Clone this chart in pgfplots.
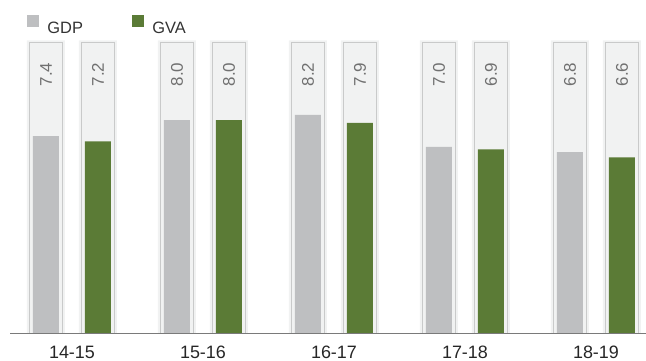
\documentclass[border=0pt]{standalone}
\usepackage{fontspec}
\setmainfont{Liberation Sans}
\usepackage{pgfplots}
\usepackage{pgfplotstable}
\pgfplotsset{compat=1.18}

\definecolor{gdpgray}{HTML}{BEBFC1}
\definecolor{gvagreen}{HTML}{5B7B36}
\definecolor{trackfill}{HTML}{F1F2F2}
\definecolor{trackline}{HTML}{C9CACA}
\definecolor{axisgray}{HTML}{7A7A7A}
\definecolor{valuegray}{HTML}{707070}

% growth rates (%) by fiscal year; halo/frame = height of the background track
\pgfplotstableread{
x year  gdp gva halo frame
0 14-15 7.4 7.2 11.0 10.93
1 15-16 8.0 8.0 11.0 10.93
2 16-17 8.2 7.9 11.0 10.93
3 17-18 7.0 6.9 11.0 10.93
4 18-19 6.8 6.6 11.0 10.93
}\growth

\begin{document}
\begin{tikzpicture}
\useasboundingbox (0,0) rectangle (646bp,361bp);
\begin{axis}[
  at={(10bp,28bp)}, anchor=south west,
  scale only axis, width=636bp, height=332.5bp,
  xmin=-0.473, xmax=4.382, ymin=0, ymax=12.5,
  axis x line=bottom, axis y line=none,
  x axis line style={-, draw=axisgray, line width=0.9bp},
  xtick={0,1,2,3,4},
  xticklabels from table={\growth}{year},
  major tick length=0pt,
  xticklabel style={anchor=base, yshift=-25.5bp, font=\fontsize{18}{20}\selectfont, text=black!85},
  ytick=\empty,
  ybar, bar shift=0pt,
  axis on top,
  clip=false,
  /pgf/number format/assume math mode=true,
  legend style={at={(rel axis cs:0.0267,0.9564)}, anchor=north west,
    draw=none, fill=none, inner sep=0pt, outer sep=0pt,
    font=\fontsize{16.5}{18}\selectfont, text=black!80,
    /tikz/every odd column/.append style={column sep=9bp},
    /tikz/every even column/.append style={column sep=49bp},
    nodes={inner sep=0pt}},
  legend columns=2,
  value label/.style={
    nodes near coords={\pgfmathprintnumber[fixed,fixed zerofill,precision=1]{\pgfplotspointmeta}},
    point meta=explicit,
    nodes near coords style={yshift=-20bp, rotate=90, anchor=east, inner sep=0pt,
      font=\fontsize{17}{19}\selectfont, text=valuegray}},
]
% background tracks
\addplot[fill=trackfill, draw=none, bar width=38bp, forget plot]
  table[x expr=\thisrow{x}-0.1985, y=halo]{\growth};
\addplot[fill=trackfill, draw=none, bar width=38bp, forget plot]
  table[x expr=\thisrow{x}+0.1985, y=halo]{\growth};
\addplot[fill=trackfill, draw=trackline, line width=0.9bp, bar width=33bp, forget plot, value label]
  table[x expr=\thisrow{x}-0.1985, y=frame, meta=gdp]{\growth};
\addplot[fill=trackfill, draw=trackline, line width=0.9bp, bar width=33bp, forget plot, value label]
  table[x expr=\thisrow{x}+0.1985, y=frame, meta=gva]{\growth};
% data bars
\addplot[fill=gdpgray, draw=none, bar width=26bp, forget plot]
  table[x expr=\thisrow{x}-0.1985, y=gdp]{\growth};
\addplot[fill=gvagreen, draw=none, bar width=26bp, forget plot]
  table[x expr=\thisrow{x}+0.1985, y=gva]{\growth};

\addlegendimage{legend image code/.code={\fill[gdpgray] (0bp,2.5bp) rectangle (11bp,13.5bp);}}
\addlegendentry{GDP}
\addlegendimage{legend image code/.code={\fill[gvagreen] (0bp,2.5bp) rectangle (11bp,13.5bp);}}
\addlegendentry{GVA}
\end{axis}
\end{tikzpicture}
\end{document}
